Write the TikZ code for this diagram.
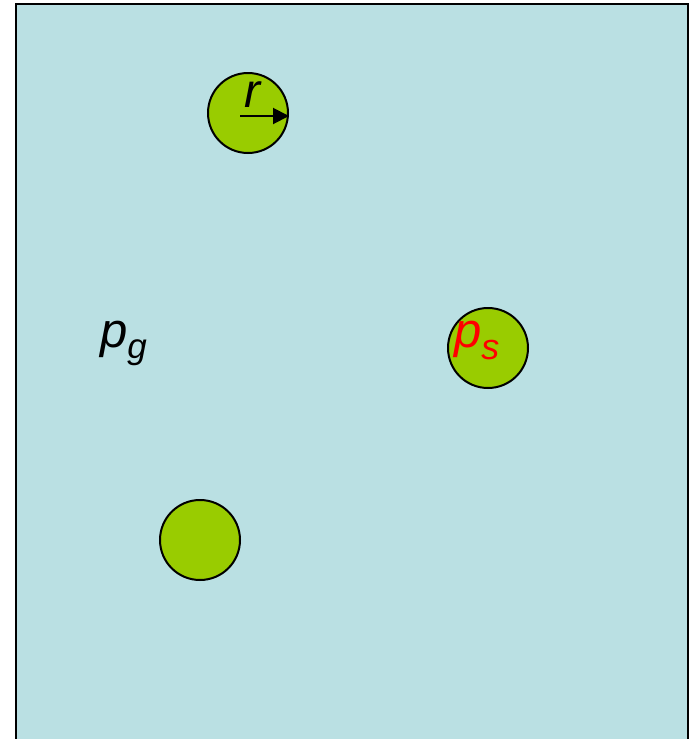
\documentclass[tikz,border=0pt]{standalone}
\usepackage{fontspec}
\setmainfont{Liberation Sans}
\usetikzlibrary{arrows.meta}
\definecolor{bgc}{HTML}{BAE0E3}
\definecolor{grain}{HTML}{99CC00}
\begin{document}
\begin{tikzpicture}[x=1pt,y=-1pt,
  grainc/.style={circle,draw=black,line width=2pt,fill=grain,minimum size=80pt,inner sep=0pt},
  lbl/.style={inner sep=0pt,anchor=base west}]
\useasboundingbox (0,0) rectangle (692,739);
\begin{scope}
\clip (0,0) rectangle (692,739);
\draw[fill=bgc,line width=2pt] (16,4) rectangle (688,760);
\end{scope}
\node[grainc] (c1) at (248,113) {};
\node[grainc] (c2) at (488,348) {};
\node[grainc] (c3) at (200,540) {};
\coordinate (a0) at (240,116);
\draw[line width=2pt,-{Triangle[length=16pt,width=16pt]}] (a0) -- (a0 -| c1.east);
\node[lbl,font=\fontsize{48}{48}\selectfont\itshape] (r) at (244,107) {r};
\node[lbl,font=\fontsize{49}{49}\selectfont\itshape] (pg) at (100,347) {p\raisebox{-11pt}{\fontsize{35}{35}\selectfont g}};
\node[lbl,font=\fontsize{49}{49}\selectfont\itshape,text=red] (ps) at (454,347) {p\raisebox{-12pt}{\fontsize{36}{36}\selectfont s}};
\end{tikzpicture}
\end{document}
